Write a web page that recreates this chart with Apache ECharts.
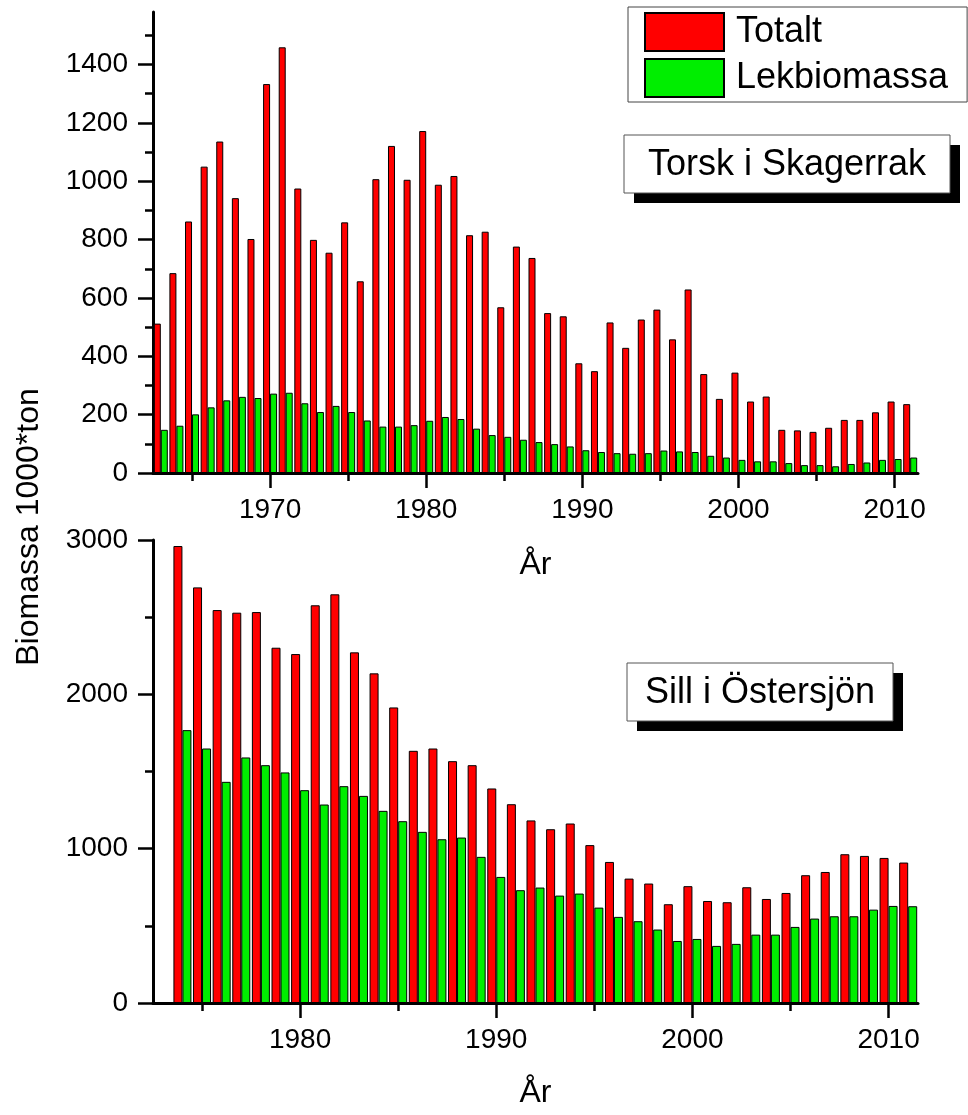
<!DOCTYPE html>
<html>
<head>
<meta charset="utf-8">
<script src="https://cdn.jsdelivr.net/npm/echarts@6/dist/echarts.min.js"></script>
<style>
html, body { margin: 0; padding: 0; background: #fff; }
#chart { width: 968px; height: 1115px; }
</style>
</head>
<body>
<div id="chart"></div>
<script>
// Torsk i Skagerrak, 1963-2011
var torskYears = ['1963', '1964', '1965', '1966', '1967', '1968', '1969', '1970', '1971', '1972',
  '1973', '1974', '1975', '1976', '1977', '1978', '1979', '1980', '1981', '1982',
  '1983', '1984', '1985', '1986', '1987', '1988', '1989', '1990', '1991', '1992',
  '1993', '1994', '1995', '1996', '1997', '1998', '1999', '2000', '2001', '2002',
  '2003', '2004', '2005', '2006', '2007', '2008', '2009', '2010', '2011']
var torskTotal = [512, 685, 862, 1050, 1136, 942, 802, 1333, 1459, 975,
  799, 755, 859, 657, 1007, 1121, 1005, 1172, 988, 1018,
  815, 827, 568, 776, 737, 548, 537, 376, 349, 516,
  429, 526, 560, 458, 629, 339, 254, 344, 245, 262,
  148, 146, 141, 155, 182, 182, 208, 245, 236]
var torskSpawn = [148, 162, 201, 225, 249, 261, 257, 272, 275, 239,
  209, 230, 209, 180, 159, 159, 164, 179, 192, 185,
  152, 130, 124, 114, 106, 99, 91, 78, 72, 68,
  66, 68, 77, 74, 72, 59, 53, 45, 40, 40,
  34, 27, 27, 23, 31, 36, 45, 48, 53]
var torskTicks = [0, 200, 400, 600, 800, 1000, 1200, 1400]
var torskMinorTicks = [100, 300, 500, 700, 900, 1100, 1300, 1500]

// Sill i Östersjön, 1973-2011 (1973 empty)
var sillYears = ['1973', '1974', '1975', '1976', '1977', '1978', '1979', '1980', '1981', '1982',
  '1983', '1984', '1985', '1986', '1987', '1988', '1989', '1990', '1991', '1992',
  '1993', '1994', '1995', '1996', '1997', '1998', '1999', '2000', '2001', '2002',
  '2003', '2004', '2005', '2006', '2007', '2008', '2009', '2010', '2011']
var sillTotal = [null, 2961, 2693, 2546, 2529, 2533, 2302, 2261, 2577, 2648,
  2272, 2136, 1915, 1634, 1649, 1567, 1541, 1390, 1288, 1183,
  1126, 1163, 1023, 914, 806, 774, 640, 757, 661, 653,
  750, 674, 713, 828, 849, 964, 953, 940, 910]
var sillSpawn = [null, 1768, 1649, 1433, 1591, 1541, 1494, 1379, 1286, 1405,
  1342, 1245, 1178, 1109, 1061, 1072, 947, 817, 731, 748,
  696, 709, 618, 558, 530, 476, 402, 415, 370, 383,
  443, 443, 493, 547, 562, 562, 605, 629, 627]
var sillTicks = [0, 1000, 2000, 3000]
var sillMinorTicks = [500, 1500, 2500]

var font = '"Liberation Sans", Arial, sans-serif'
var axisLineStyle = { color: '#000', width: 3 }
var tickLineStyle = { color: '#000', width: 2.5 }
var red = '#ff0000'
var green = '#00ee00'

function majorYear (idx, val) {
  return Number(val) % 10 === 0
}
function minorYear (idx, val) {
  return Number(val) % 5 === 0 && Number(val) % 10 !== 0
}

function xAxes (grid, years, nameGap) {
  return [{
    type: 'category',
    gridIndex: grid,
    position: 'bottom',
    data: years,
    axisLine: { show: true, lineStyle: axisLineStyle },
    axisTick: { show: true, alignWithLabel: true, interval: majorYear, length: 15, lineStyle: tickLineStyle },
    axisLabel: { interval: majorYear, margin: 23, fontSize: 28, color: '#000', fontFamily: font },
    splitLine: { show: false },
    name: 'År',
    nameLocation: 'middle',
    nameGap: nameGap,
    nameTextStyle: { fontSize: 32, color: '#000', fontFamily: font }
  }, {
    type: 'category',
    gridIndex: grid,
    position: 'bottom',
    data: years,
    axisLine: { show: false },
    axisTick: { show: true, alignWithLabel: true, interval: minorYear, length: 8, lineStyle: tickLineStyle },
    axisLabel: { show: false },
    splitLine: { show: false }
  }]
}

function yAxes (grid, max, ticks, minorTicks) {
  return [{
    type: 'value',
    gridIndex: grid,
    position: 'left',
    min: 0,
    max: max,
    axisLine: { show: true, lineStyle: axisLineStyle },
    axisTick: { show: true, customValues: ticks, length: 15, lineStyle: tickLineStyle },
    axisLabel: {
      customValues: ticks,
      margin: 25,
      fontSize: 28,
      color: '#000',
      fontFamily: font,
      formatter: function (v) { return String(v) }
    },
    splitLine: { show: false }
  }, {
    type: 'value',
    gridIndex: grid,
    position: 'left',
    min: 0,
    max: max,
    axisLine: { show: false },
    axisTick: { show: true, customValues: minorTicks, length: 8, lineStyle: tickLineStyle },
    axisLabel: { show: false },
    splitLine: { show: false }
  }]
}

function barSeries (name, color, xi, yi, data, width) {
  return {
    name: name,
    type: 'bar',
    xAxisIndex: xi,
    yAxisIndex: yi,
    data: data,
    barWidth: width,
    barGap: '0%',
    itemStyle: { color: color, borderColor: '#000', borderWidth: 1 },
    emphasis: { disabled: true }
  }
}

// label box with a hard black drop shadow
function shadowBox (text, x, y, w, h) {
  return {
    type: 'group',
    x: x,
    y: y,
    children: [{
      type: 'rect',
      shape: { x: 10, y: 10, width: w, height: h },
      style: { fill: '#000' }
    }, {
      type: 'rect',
      shape: { x: 0, y: 0, width: w, height: h },
      style: { fill: '#fff', stroke: '#555', lineWidth: 1 }
    }, {
      type: 'text',
      x: w / 2,
      y: h / 2 + 1,
      style: {
        text: text,
        fontSize: 36,
        fontFamily: font,
        fill: '#000',
        textAlign: 'center',
        textVerticalAlign: 'middle'
      }
    }]
  }
}

var chart = echarts.init(document.getElementById('chart'))
chart.setOption({
  backgroundColor: '#fff',
  animation: false,
  legend: {
    orient: 'vertical',
    left: 628,
    top: 7,
    icon: 'rect',
    itemWidth: 79,
    itemHeight: 38,
    itemGap: 6,
    padding: [5, 19, 4, 16],
    backgroundColor: '#fff',
    borderColor: '#444',
    borderWidth: 1,
    selectedMode: false,
    data: ['Totalt', 'Lekbiomassa'],
    textStyle: { fontSize: 36, lineHeight: 38, color: '#000', fontFamily: font, padding: [0, 0, 0, 7] }
  },
  graphic: [{
    type: 'text',
    x: 29,
    y: 527,
    rotation: Math.PI / 2,
    style: {
      text: 'Biomassa 1000*ton',
      fontSize: 32,
      fontFamily: font,
      fill: '#000',
      textAlign: 'center',
      textVerticalAlign: 'middle'
    }
  },
  shadowBox('Torsk i Skagerrak', 624, 135, 326, 58),
  shadowBox('Sill i Östersjön', 627, 663, 266, 58)
  ],
  grid: [
    { left: 153, right: 50, top: 12, height: 461 },
    { left: 153, right: 50, top: 540, height: 463 }
  ],
  xAxis: xAxes(0, torskYears, 76).concat(xAxes(1, sillYears, 74)),
  yAxis: yAxes(0, 1580, torskTicks, torskMinorTicks).concat(yAxes(1, 3000, sillTicks, sillMinorTicks)),
  series: [
    barSeries('Totalt', red, 0, 0, torskTotal, 7),
    barSeries('Lekbiomassa', green, 0, 0, torskSpawn, 7),
    barSeries('Totalt', red, 2, 2, sillTotal, 9),
    barSeries('Lekbiomassa', green, 2, 2, sillSpawn, 9)
  ]
})
</script>
</body>
</html>
